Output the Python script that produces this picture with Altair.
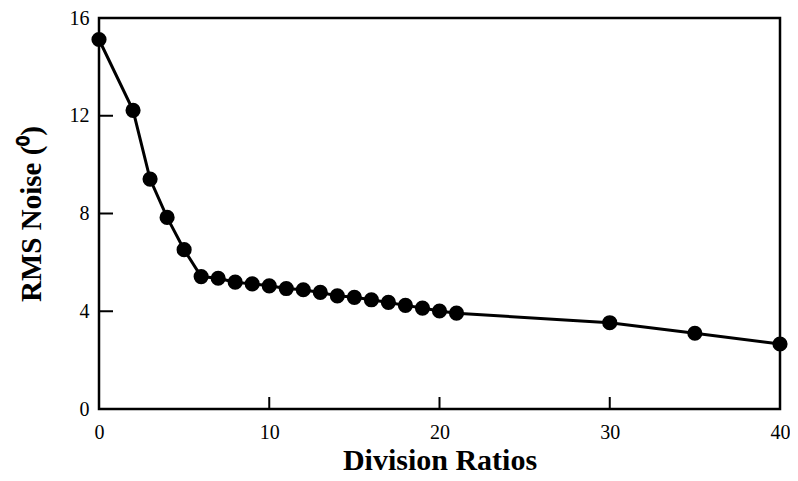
import altair as alt
import pandas as pd

ratios = [0, 2, 3, 4, 5, 6, 7, 8, 9, 10, 11, 12, 13, 14, 15, 16, 17, 18, 19, 20, 21, 30, 35, 40]
noise = [15.12, 12.22, 9.41, 7.84, 6.52, 5.42, 5.35, 5.19, 5.12, 5.04, 4.93, 4.88, 4.77, 4.63, 4.57, 4.47, 4.36, 4.24, 4.13, 4.01, 3.92, 3.53, 3.10, 2.66]

x_labels = [0, 10, 20, 30, 40]
y_labels = [0, 4, 8, 12, 16]
x_ticks = [10, 20, 30]
y_ticks = [4, 8, 12]

df = pd.DataFrame({"ratio": ratios, "noise": noise})
dfx = pd.DataFrame({"t": x_ticks})
dfy = pd.DataFrame({"t": y_ticks})

W, H = 681, 391

xs = alt.Scale(domain=[0, 40], nice=False, zero=False)
ys = alt.Scale(domain=[0, 16], nice=False)

font = "Liberation Serif"

xax = alt.Axis(values=x_labels, title="Division Ratios", labelPadding=13, titlePadding=3,
               labelFont=font, labelFontSize=20, titleFont=font, titleFontSize=30)
yax = alt.Axis(values=y_labels, title="RMS Noise (⁰)", labelPadding=10, titlePadding=23,
               labelFont=font, labelFontSize=20, titleFont=font, titleFontSize=29)

line = alt.Chart(df).mark_line(color="black", strokeWidth=3).encode(
    x=alt.X("ratio:Q", scale=xs, axis=xax), y=alt.Y("noise:Q", scale=ys, axis=yax))
pts = alt.Chart(df).mark_circle(color="black", opacity=1, size=230).encode(
    x=alt.X("ratio:Q", scale=xs, axis=xax), y=alt.Y("noise:Q", scale=ys, axis=yax))

xt = alt.Chart(dfx).mark_rule(color="black", strokeWidth=2).encode(
    x=alt.X("t:Q", scale=xs, axis=xax), y=alt.value(H), y2=alt.value(H - 12))
yt = alt.Chart(dfy).mark_rule(color="black", strokeWidth=2).encode(
    y=alt.Y("t:Q", scale=ys, axis=yax), x=alt.value(0), x2=alt.value(14))

chart = alt.layer(line, pts, xt, yt).properties(
    width=W, height=H,
    autosize=alt.AutoSizeParams(type="none"),
    padding={"left": 91, "top": 10, "right": 10, "bottom": 72},
    background="white",
).configure_view(
    stroke="black", strokeWidth=2.5
).configure_axis(
    ticks=False, domain=False, grid=False,
    labelFont=font, labelColor="black",
    titleFont=font, titleFontWeight="bold", titleColor="black",
    labelOverlap=False, labelFlush=False,
)

chart.save("out.html", embed_options={"renderer": "svg", "actions": False})
